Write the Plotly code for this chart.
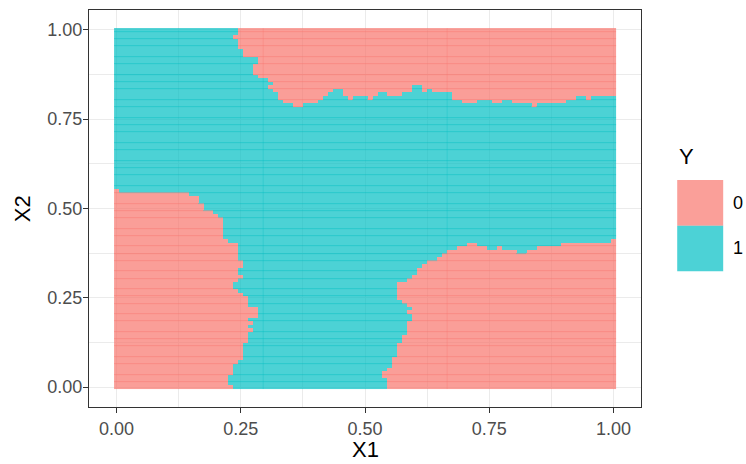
import numpy as np
import plotly.graph_objects as go

# ---- grid of the decision surface (X1, X2 from 0 to 1 in steps of 0.01) ----
grid_values = np.round(np.linspace(0.0, 1.0, 101), 2)

class_labels = ["0", "1"]
class_colors = ["#F8766D", "#00BFC4"]

# Lower-left region of class 0: for X2 = 0.00 .. 0.55, class 0 where X1 < value
lower_left_x1 = [0.24, 0.23, 0.23, 0.23, 0.24, 0.24, 0.24, 0.25, 0.26, 0.26,
                 0.26, 0.26, 0.26, 0.27, 0.27, 0.27, 0.28, 0.27, 0.28, 0.27,
                 0.29, 0.29, 0.29, 0.27, 0.27, 0.27, 0.26, 0.25, 0.24, 0.24,
                 0.25, 0.26, 0.25, 0.25, 0.26, 0.26, 0.25, 0.25, 0.25, 0.25,
                 0.25, 0.23, 0.22, 0.22, 0.22, 0.22, 0.22, 0.22, 0.21, 0.20,
                 0.18, 0.18, 0.17, 0.17, 0.15, 0.01]

# Lower-right region of class 0: for X2 = 0.00 .. 0.41, class 0 where X1 >= value
lower_right_x1 = [0.55, 0.55, 0.55, 0.54, 0.54, 0.55, 0.56, 0.56, 0.56, 0.57,
                  0.57, 0.57, 0.57, 0.58, 0.58, 0.59, 0.59, 0.59, 0.59, 0.60,
                  0.60, 0.59, 0.60, 0.59, 0.58, 0.57, 0.57, 0.57, 0.57, 0.57,
                  0.59, 0.60, 0.61, 0.61, 0.62, 0.63, 0.65, 0.66, 0.67, 0.67,
                  0.67, 0.67]
# ... and X2 <= value, for X1 = 0.67 .. 1.00
lower_right_top_x2 = [0.38, 0.38, 0.39, 0.39, 0.40, 0.40, 0.39, 0.39, 0.38, 0.38,
                      0.39, 0.38, 0.38, 0.38, 0.37, 0.37, 0.38, 0.38, 0.39, 0.39,
                      0.39, 0.39, 0.39, 0.40, 0.40, 0.40, 0.40, 0.40, 0.40, 0.40,
                      0.40, 0.40, 0.40, 0.41]
lower_right_top_from_x1 = 0.67

# Upper region of class 0: for X2 = 0.79 .. 1.00, class 0 where X1 >= value
upper_left_x1 = [0.36, 0.34, 0.33, 0.33, 0.32, 0.31, 0.32, 0.31, 0.29, 0.28,
                 0.28, 0.28, 0.29, 0.29, 0.26, 0.26, 0.25, 0.25, 0.25, 0.24,
                 0.25, 0.25]
upper_from_x2 = 0.79
# ... and X2 >= value, for X1 = 0.33 .. 1.00
upper_bottom_x2 = [0.81, 0.80, 0.80, 0.79, 0.79, 0.80, 0.80, 0.80, 0.81, 0.82,
                   0.83, 0.84, 0.84, 0.82, 0.81, 0.82, 0.82, 0.82, 0.81, 0.82,
                   0.83, 0.83, 0.82, 0.82, 0.82, 0.83, 0.83, 0.85, 0.85, 0.83,
                   0.84, 0.83, 0.83, 0.83, 0.83, 0.81, 0.81, 0.80, 0.80, 0.80,
                   0.81, 0.81, 0.81, 0.80, 0.80, 0.81, 0.81, 0.80, 0.80, 0.80,
                   0.80, 0.79, 0.80, 0.80, 0.80, 0.80, 0.80, 0.80, 0.81, 0.81,
                   0.82, 0.82, 0.81, 0.82, 0.82, 0.82, 0.82, 0.82]
upper_bottom_from_x1 = 0.33

axis_ticks = [0.0, 0.25, 0.5, 0.75, 1.0]
axis_ticktext = ["0.00", "0.25", "0.50", "0.75", "1.00"]

# ---- build class matrix ----
eps = 1e-9
n = len(grid_values)
z = np.ones((n, n), dtype=float)
for r, y in enumerate(grid_values):
    for c, x in enumerate(grid_values):
        cls = 1
        if r < len(lower_left_x1) and x < lower_left_x1[r] - eps:
            cls = 0
        if r < len(lower_right_x1) and x >= lower_right_x1[r] - eps:
            k = int(round((x - lower_right_top_from_x1) * 100))
            cap = lower_right_top_x2[k] if k >= 0 else 1.0
            if y <= cap + eps:
                cls = 0
        if y >= upper_from_x2 - eps:
            thr = upper_left_x1[int(round((y - upper_from_x2) * 100))]
            k = int(round((x - upper_bottom_from_x1) * 100))
            floor = upper_bottom_x2[k] if k >= 0 else 0.0
            if x >= thr - eps and y >= floor - eps:
                cls = 0
        z[r, c] = cls

colorscale = [[0, class_colors[0]], [0.5, class_colors[0]],
              [0.5, class_colors[1]], [1, class_colors[1]]]

fig = go.Figure()
fig.add_trace(go.Heatmap(
    x=grid_values, y=grid_values, z=z, zmin=0, zmax=1,
    colorscale=colorscale, opacity=0.7, showscale=False, hoverinfo="skip",
))

# ---- faint overlap seams between neighbouring tiles (raster look of the original) ----
px_y = 1.0 / 358.0
step = grid_values[1] - grid_values[0]
seam_rows = [j for j in range(1, n) if np.floor(j * 0.4167 + 0.4) > np.floor((j - 1) * 0.4167 + 0.4)]
y_edges, z_rows = [], []
for i, j in enumerate(seam_rows):
    b = grid_values[j] - step / 2
    y_edges += [b - px_y / 2, b + px_y / 2]
    z_rows.append(z[j])
    if i < len(seam_rows) - 1:
        z_rows.append(np.full(n, np.nan))
fig.add_trace(go.Heatmap(
    x=grid_values, y=y_edges, z=np.array(z_rows), zmin=0, zmax=1,
    colorscale=colorscale, opacity=0.45, showscale=False, hoverinfo="skip",
))
px_x = 1.0 / 500.0
seam_cols = [30, 67]
x_edges, z_cols = [], []
for i, c in enumerate(seam_cols):
    b = grid_values[c] - step / 2
    x_edges += [b - px_x / 2, b + px_x / 2]
    z_cols.append(z[:, c])
    if i < len(seam_cols) - 1:
        z_cols.append(np.full(n, np.nan))
fig.add_trace(go.Heatmap(
    x=x_edges, y=grid_values, z=np.array(z_cols).T, zmin=0, zmax=1,
    colorscale=colorscale, opacity=0.3, showscale=False, hoverinfo="skip",
))

font_family = "Liberation Sans, Arial, sans-serif"
axis_common = dict(
    tickvals=axis_ticks, ticktext=axis_ticktext,
    range=[-0.0555, 1.0555],
    ticks="outside", ticklen=5, tickwidth=1, tickcolor="#333333",
    showline=True, mirror=True, linecolor="#333333", linewidth=1,
    showgrid=True, gridcolor="#EBEBEB", gridwidth=1,
    minor=dict(showgrid=True, gridcolor="#EBEBEB", gridwidth=0.5, dtick=0.125, ticks=""),
    zeroline=False, automargin=False,
    tickfont=dict(family=font_family, size=18, color="#4D4D4D"),
)

fig.update_layout(
    width=746, height=464,
    margin=dict(l=89, r=105, t=10, b=57),
    paper_bgcolor="white", plot_bgcolor="white",
    xaxis=dict(axis_common),
    yaxis=dict(axis_common, ticklabelstandoff=-3),
    showlegend=False,
)

# axis titles
fig.add_annotation(xref="paper", yref="paper", x=0.5, y=-0.108, text="X1",
                   showarrow=False, xanchor="center", yanchor="middle",
                   font=dict(family=font_family, size=22, color="#000000"))
fig.add_annotation(xref="paper", yref="paper", x=-0.12, y=0.5, text="X2", textangle=-90,
                   showarrow=False, xanchor="center", yanchor="middle",
                   font=dict(family=font_family, size=22, color="#000000"))

# ---- legend (ggplot style, keys drawn as squares) ----
key_x0, key_x1 = 1.0656, 1.1489
key_tops = [0.5716, 0.4568]
key_h = 0.1148
for lab, col, top in zip(class_labels, class_colors, key_tops):
    fig.add_shape(type="rect", xref="paper", yref="paper",
                  x0=key_x0, x1=key_x1, y0=top - key_h, y1=top,
                  fillcolor=col, opacity=0.7, line=dict(width=0), layer="above")
    fig.add_annotation(xref="paper", yref="paper", x=key_x1 + 0.014, y=top - key_h / 2,
                       text=lab, showarrow=False, xanchor="left", yanchor="middle",
                       font=dict(family=font_family, size=18, color="#000000"))
fig.add_annotation(xref="paper", yref="paper", x=key_x0, y=0.63,
                   text="Y", showarrow=False, xanchor="left", yanchor="middle",
                   font=dict(family=font_family, size=22, color="#000000"))

# remove the browser's default page margin so the 746x464 figure fills the window
fig.write_html("out.html", config={"displayModeBar": False},
               post_script="document.body.style.margin='0';"
                           "document.body.style.overflow='hidden';")
